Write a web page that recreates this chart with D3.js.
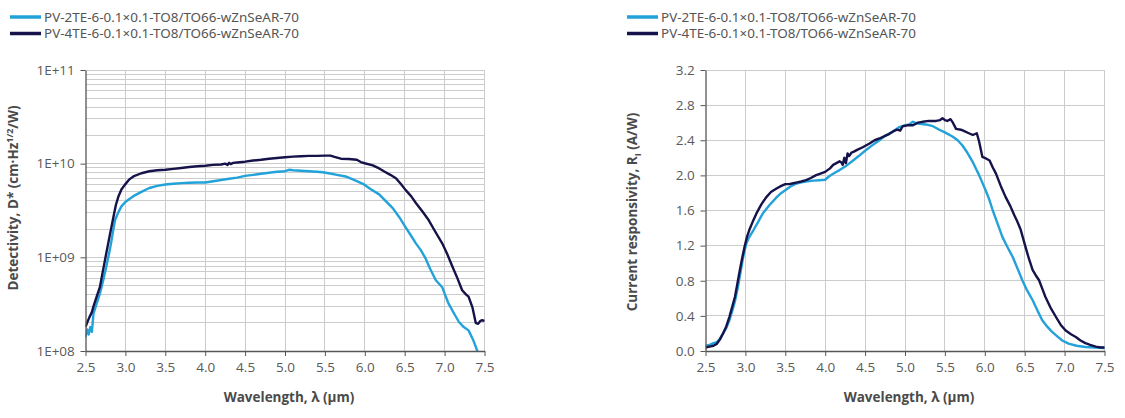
<!DOCTYPE html>
<html><head><meta charset="utf-8">
<script src="https://cdn.jsdelivr.net/npm/d3@7"></script>
<style>
html,body{margin:0;padding:0;background:#fff;}
svg{display:block;}
</style></head>
<body>
<svg id="c" width="1125" height="418"></svg>
<script>
// ---------- DATA ----------
const seriesNames = ["PV-2TE-6-0.1×0.1-TO8/TO66-wZnSeAR-70", "PV-4TE-6-0.1×0.1-TO8/TO66-wZnSeAR-70"];
const xTicks = [2.5, 3.0, 3.5, 4.0, 4.5, 5.0, 5.5, 6.0, 6.5, 7.0, 7.5];
const detTickLabels = ["1E+08", "1E+09", "1E+10", "1E+11"];
const respTicks = [0.0, 0.4, 0.8, 1.2, 1.6, 2.0, 2.4, 2.8, 3.2];

// Detectivity, PV-2TE (light)
const det2TE_wl = [2.50,2.52,2.54,2.56,2.58,2.60,2.64,2.68,2.72,2.76,2.80,2.82,2.85,2.87,2.91,2.95,3.00,3.05,3.10,3.20,3.30,3.40,3.50,3.60,3.70,3.80,3.90,4.00,4.10,4.20,4.30,4.40,4.50,4.60,4.70,4.80,4.90,5.00,5.05,5.10,5.20,5.30,5.40,5.47,5.55,5.65,5.76,5.85,5.92,5.99,6.08,6.18,6.26,6.35,6.43,6.51,6.58,6.64,6.70,6.76,6.82,6.89,6.97,7.01,7.05,7.12,7.18,7.24,7.30,7.36,7.41,7.43];
const det2TE = [1.4e8,1.7e8,1.5e8,1.8e8,1.6e8,2.5e8,3.2e8,4.1e8,5.6e8,7.9e8,1.15e9,1.41e9,2.0e9,2.5e9,3.0e9,3.5e9,3.9e9,4.2e9,4.5e9,5.0e9,5.5e9,5.8e9,6.0e9,6.1e9,6.2e9,6.25e9,6.3e9,6.3e9,6.5e9,6.7e9,6.9e9,7.1e9,7.4e9,7.6e9,7.8e9,8.0e9,8.2e9,8.3e9,8.6e9,8.5e9,8.4e9,8.3e9,8.2e9,8.1e9,7.9e9,7.6e9,7.3e9,6.8e9,6.4e9,6.0e9,5.3e9,4.7e9,4.0e9,3.35e9,2.7e9,2.1e9,1.7e9,1.41e9,1.2e9,9.8e8,7.5e8,5.7e8,4.8e8,3.9e8,3.2e8,2.5e8,2.04e8,1.8e8,1.66e8,1.3e8,1.0e8,0.85e8];

// Detectivity, PV-4TE (dark)
const det4TE_wl = [2.50,2.52,2.55,2.58,2.60,2.64,2.68,2.72,2.76,2.80,2.85,2.88,2.91,2.95,2.99,3.05,3.10,3.20,3.30,3.40,3.50,3.60,3.70,3.80,3.90,4.00,4.10,4.20,4.25,4.28,4.30,4.32,4.35,4.40,4.50,4.60,4.70,4.80,4.90,5.00,5.10,5.20,5.30,5.40,5.50,5.57,5.62,5.70,5.80,5.90,5.95,6.00,6.10,6.18,6.25,6.32,6.39,6.45,6.51,6.58,6.64,6.72,6.80,6.88,6.97,7.03,7.10,7.16,7.22,7.27,7.30,7.35,7.39,7.42,7.45,7.47,7.50];
const det4TE = [1.8e8,2.0e8,2.3e8,2.6e8,3.0e8,3.8e8,4.8e8,7.3e8,1.1e9,1.65e9,2.7e9,3.6e9,4.4e9,5.3e9,5.9e9,6.8e9,7.3e9,7.9e9,8.3e9,8.5e9,8.6e9,8.8e9,9.0e9,9.2e9,9.4e9,9.5e9,9.7e9,9.8e9,1.0e10,9.7e9,1.02e10,9.9e9,1.02e10,1.03e10,1.05e10,1.08e10,1.1e10,1.13e10,1.15e10,1.17e10,1.19e10,1.2e10,1.21e10,1.21e10,1.22e10,1.22e10,1.18e10,1.13e10,1.12e10,1.1e10,1.04e10,1.01e10,9.6e9,8.9e9,8.2e9,7.6e9,7.0e9,6.1e9,5.25e9,4.5e9,3.8e9,3.1e9,2.5e9,1.9e9,1.41e9,1.1e9,7.9e8,6.0e8,4.45e8,4.0e8,3.8e8,2.9e8,2.0e8,1.95e8,2.1e8,2.13e8,2.1e8];

// Current responsivity, PV-2TE (light)
const resp2TE_wl = [2.50,2.55,2.60,2.64,2.68,2.72,2.76,2.80,2.84,2.87,2.90,2.94,2.97,3.01,3.05,3.10,3.16,3.22,3.30,3.39,3.45,3.50,3.56,3.62,3.70,3.76,3.85,3.93,4.00,4.05,4.12,4.18,4.25,4.35,4.42,4.50,4.60,4.68,4.75,4.85,4.93,5.00,5.05,5.10,5.16,5.26,5.35,5.43,5.50,5.60,5.66,5.72,5.78,5.85,5.93,6.01,6.05,6.10,6.16,6.22,6.28,6.35,6.41,6.47,6.53,6.60,6.66,6.72,6.78,6.84,6.89,6.97,7.05,7.15,7.26,7.38,7.50];
const resp2TE = [0.06,0.07,0.09,0.10,0.14,0.20,0.26,0.35,0.47,0.57,0.70,0.90,1.06,1.22,1.30,1.375,1.47,1.57,1.66,1.75,1.80,1.83,1.87,1.90,1.92,1.93,1.94,1.945,1.95,1.99,2.03,2.06,2.10,2.17,2.22,2.28,2.35,2.40,2.45,2.50,2.55,2.57,2.58,2.61,2.59,2.58,2.56,2.52,2.49,2.44,2.40,2.34,2.26,2.15,2.00,1.83,1.74,1.60,1.45,1.30,1.19,1.07,0.94,0.806,0.69,0.578,0.46,0.35,0.28,0.22,0.18,0.12,0.084,0.06,0.046,0.04,0.035];

// Current responsivity, PV-4TE (dark)
const resp4TE_wl = [2.50,2.55,2.60,2.64,2.68,2.72,2.76,2.80,2.84,2.87,2.90,2.93,2.96,2.99,3.02,3.05,3.10,3.14,3.20,3.26,3.32,3.39,3.45,3.50,3.55,3.60,3.65,3.70,3.76,3.82,3.88,3.94,4.00,4.06,4.10,4.14,4.18,4.20,4.22,4.24,4.26,4.28,4.30,4.33,4.36,4.40,4.47,4.55,4.62,4.68,4.75,4.80,4.85,4.90,4.94,4.97,5.03,5.10,5.16,5.22,5.30,5.39,5.44,5.47,5.50,5.53,5.57,5.60,5.64,5.70,5.75,5.80,5.85,5.90,5.93,5.97,6.02,6.06,6.10,6.14,6.20,6.26,6.32,6.37,6.40,6.45,6.51,6.55,6.60,6.64,6.68,6.72,6.76,6.82,6.89,6.95,7.01,7.08,7.14,7.20,7.26,7.32,7.39,7.45,7.50];
const resp4TE = [0.04,0.05,0.06,0.08,0.13,0.20,0.28,0.39,0.52,0.62,0.77,0.92,1.06,1.19,1.30,1.38,1.49,1.57,1.67,1.75,1.81,1.85,1.88,1.90,1.90,1.91,1.92,1.93,1.945,1.97,2.00,2.02,2.04,2.08,2.12,2.14,2.16,2.15,2.12,2.20,2.14,2.25,2.22,2.26,2.27,2.29,2.32,2.36,2.40,2.42,2.45,2.47,2.50,2.52,2.51,2.56,2.57,2.57,2.60,2.61,2.62,2.62,2.63,2.65,2.63,2.62,2.64,2.60,2.53,2.52,2.50,2.48,2.46,2.48,2.38,2.21,2.19,2.17,2.09,2.02,1.88,1.755,1.65,1.546,1.49,1.38,1.185,1.06,0.92,0.86,0.806,0.71,0.615,0.50,0.39,0.30,0.236,0.19,0.16,0.12,0.09,0.07,0.05,0.04,0.04];

// ---------- STYLE ----------
const colLight = "#22a2d9";
const colDark = "#15134a";
const gridCol = "#cccccc";
const axisCol = "#555555";
const textCol = "#5a5a5a";
const tickFont = "'Open Sans', sans-serif";

const svg = d3.select("#c");
const plotTop = 70, plotBottom = 351;

function zip(xs, ys) { return xs.map((x, i) => ({x, y: ys[i]})); }

function legend(x0) {
  const g = svg.append("g");
  [colLight, colDark].forEach((c, i) => {
    const y = 17 + i * 16.5;
    g.append("line").attr("x1", x0).attr("x2", x0 + 31).attr("y1", y).attr("y2", y)
      .attr("stroke", c).attr("stroke-width", 3.5);
    g.append("text").attr("x", x0 + 34).attr("y", y + 4.5)
      .attr("font-family", "'Noto Sans', sans-serif").attr("font-size", 13)
      .attr("fill", "#555").attr("textLength", 255).attr("lengthAdjust", "spacingAndGlyphs")
      .text(seriesNames[i]);
  });
}

function chart(opts) {
  const {left, right, y, yTicks, yFmt, minorTicks, series, clipId} = opts;
  const x = d3.scaleLinear().domain([2.5, 7.5]).range([left, right]);
  const g = svg.append("g");

  g.append("g").selectAll("line").data(xTicks.slice(1)).join("line")
    .attr("x1", d => x(d)).attr("x2", d => x(d)).attr("y1", plotTop).attr("y2", plotBottom)
    .attr("stroke", gridCol).attr("stroke-width", 1).attr("shape-rendering", "crispEdges");
  g.append("g").selectAll("line").data(minorTicks).join("line")
    .attr("x1", left).attr("x2", right).attr("y1", d => y(d)).attr("y2", d => y(d))
    .attr("stroke", gridCol).attr("stroke-width", 1).attr("shape-rendering", "crispEdges");

  svg.append("clipPath").attr("id", clipId).append("rect")
    .attr("x", left).attr("y", plotTop - 2).attr("width", right - left + 2).attr("height", plotBottom - plotTop + 2);

  const line = d3.line().x(d => x(d.x)).y(d => y(d.y)).curve(d3.curveLinear);
  series.forEach(s => {
    g.append("path").datum(s.data).attr("d", line)
      .attr("fill", "none").attr("stroke", s.color).attr("stroke-width", 2.4)
      .attr("stroke-linejoin", "round").attr("clip-path", `url(#${clipId})`);
  });

  const xAxis = d3.axisBottom(x).tickValues(xTicks).tickFormat(d3.format(".1f")).tickSize(5).tickSizeOuter(0);
  const gx = g.append("g").attr("transform", `translate(0,${plotBottom})`).call(xAxis);
  const yAxis = d3.axisLeft(y).tickValues(yTicks).tickFormat(yFmt).tickSize(5).tickSizeOuter(0);
  const gy = g.append("g").attr("transform", `translate(${left},0)`).call(yAxis);
  [gx, gy].forEach(a => {
    a.select(".domain").attr("stroke", axisCol).attr("stroke-width", 1.3);
    a.selectAll(".tick line").attr("stroke", axisCol);
    a.selectAll("text").attr("font-family", tickFont).attr("font-size", 13.5).attr("fill", textCol);
  });
  gx.selectAll("text").attr("dy", "0.95em");
  gy.selectAll("text").attr("dx", "-0.2em");

  g.append("text").attr("x", (left + right) / 2 + 4).attr("y", 402)
    .attr("text-anchor", "middle").attr("font-family", tickFont).attr("font-weight", "bold")
    .attr("font-size", 13.5).attr("fill", "#4a4a4a").text("Wavelength, λ (μm)");
  return g;
}

// ---------- LEFT: Detectivity ----------
legend(10);
const yDet = d3.scaleLog().domain([1e8, 1e11]).range([plotBottom, plotTop]);
const detMinor = [];
[1e8, 1e9, 1e10].forEach(b => { for (let k = 1; k <= 10; k++) detMinor.push(b * k); });
chart({
  left: 85.5, right: 484.5, y: yDet,
  yTicks: [1e8, 1e9, 1e10, 1e11],
  yFmt: (d, i) => detTickLabels[i],
  minorTicks: Array.from(new Set(detMinor)),
  clipId: "clipL",
  series: [
    {data: zip(det2TE_wl, det2TE), color: colLight},
    {data: zip(det4TE_wl, det4TE), color: colDark}
  ]
});
const tL = svg.append("text").attr("transform", "translate(18,198) rotate(-90)")
  .attr("text-anchor", "middle").attr("font-family", tickFont).attr("font-weight", "bold")
  .attr("font-size", 13.5).attr("fill", "#4a4a4a");
tL.append("tspan").text("Detectivity, D* (cm·Hz");
tL.append("tspan").attr("font-size", 9).attr("dy", -5).text("1/2");
tL.append("tspan").attr("dy", 5).text("/W)");

// ---------- RIGHT: Responsivity ----------
legend(627);
const yResp = d3.scaleLinear().domain([0, 3.2]).range([plotBottom, plotTop]);
chart({
  left: 705.5, right: 1104.5, y: yResp,
  yTicks: respTicks,
  yFmt: d3.format(".1f"),
  minorTicks: respTicks.slice(1),
  clipId: "clipR",
  series: [
    {data: zip(resp2TE_wl, resp2TE), color: colLight},
    {data: zip(resp4TE_wl, resp4TE), color: colDark}
  ]
});
const tR = svg.append("text").attr("transform", "translate(637,212) rotate(-90)")
  .attr("text-anchor", "middle").attr("font-family", tickFont).attr("font-weight", "bold")
  .attr("font-size", 13.5).attr("fill", "#4a4a4a");
tR.append("tspan").text("Current responsivity, R");
tR.append("tspan").attr("font-size", 9).attr("dy", 4).text("I");
tR.append("tspan").attr("dy", -4).text(" (A/W)");
</script>
</body></html>
